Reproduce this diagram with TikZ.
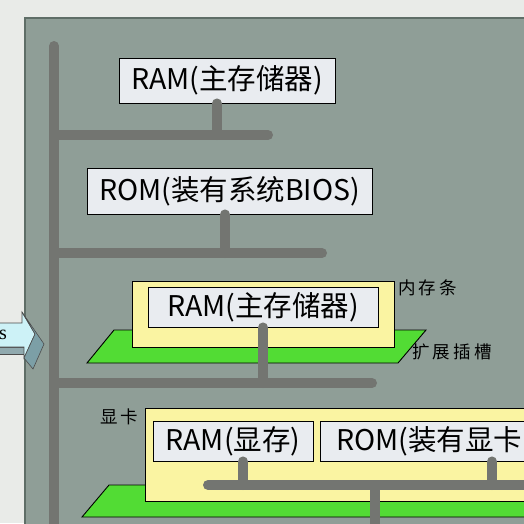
\documentclass[tikz,border=0pt]{standalone}
\usepackage{fontspec}
\setmainfont{Noto Sans CJK SC}
\newfontfamily\notefont[LetterSpace=18]{Noto Sans CJK SC}
\newfontfamily\arrowfont{Liberation Serif}
\usepackage{xcolor}
\definecolor{pagecolor}{HTML}{E9EBE8}
\definecolor{boardcolor}{HTML}{8F9E97}
\definecolor{edgecolor}{HTML}{5F6E67}
\definecolor{buscolor}{HTML}{737571}
\definecolor{chipcolor}{HTML}{E9ECF0}
\definecolor{modcolor}{HTML}{FAF4A2}
\definecolor{slotcolor}{HTML}{52DC34}
\definecolor{arrowfront}{HTML}{CDF2F7}
\definecolor{arrowside}{HTML}{7C9FA6}
\definecolor{arrowlow}{HTML}{90A9AE}
\usepackage{tikz}
\usetikzlibrary{positioning, calc}

\begin{document}
\begin{tikzpicture}[x=1pt, y=-1pt,
  chip/.style={draw=black, fill=chipcolor, line width=0.9pt, inner sep=0pt,
    font=\fontsize{28.5}{28.5}\selectfont},
  board/.style={draw=black, line width=0.9pt, inner sep=0pt},
  bus/.style={draw=buscolor, line width=10pt, line cap=round},
  note/.style={font=\notefont\fontsize{17.5}{17.5}\selectfont, anchor=west, inner sep=0pt}]
  \useasboundingbox (0,0) rectangle (524,523);
  \clip (0,0) rectangle (524,523);
  \fill[pagecolor] (0,0) rectangle (524,523);
  \fill[boardcolor] (25,18) rectangle (540,540);
  \draw[edgecolor, line width=1.5pt] (25,540) -- (25,18) -- (540,18);

  % slots and modules
  \draw[board, fill=slotcolor] (87,363) -- (114,330) -- (426,330) -- (398,363) -- cycle;
  \draw[board, fill=slotcolor] (82,517) -- (109,485) -- (540,485) -- (540,517) -- cycle;
  \node[board, fill=modcolor, minimum width=262pt, minimum height=66pt] (dimm) at (263,314) {};
  \node[board, fill=modcolor, anchor=north west, minimum width=400pt, minimum height=93pt] (card) at (145,408) {};

  \node[chip, minimum width=216pt, minimum height=45pt] (ram) at (227,80.5) {RAM(主存储器)};
  \node[chip, minimum width=285pt, minimum height=46pt] (rom) at (229.5,191) {ROM(装有系统BIOS)};
  \node[chip, minimum width=230pt, minimum height=40pt] (dimmram) at (263,307) {RAM(主存储器)};
  \node[chip, minimum width=160pt, minimum height=40pt] (vram) at (233,441) {RAM(显存)};
  \node[chip, anchor=west, minimum height=40pt, inner xsep=16pt, text width=240pt, align=left] (vrom) at (320,441) {ROM(装有显卡};

  \node[note] (dimmlabel) at (398,288) {内存条};
  \node[note] (slotlabel) at (412,352) {扩展插槽};
  \node[note] (cardlabel) at (100,417) {显卡};

  % buses
  \coordinate (bustop) at (54,46);
  \coordinate (busend) at (54,540);
  \coordinate (bar1) at (268,135);
  \coordinate (bar2) at (322,253);
  \coordinate (bar3) at (372,383);
  \coordinate (cardbar) at (208,485);
  \coordinate (cardbarend) at (540,485);
  \coordinate (cardpin) at (375,540);
  \draw[bus] (bustop) -- (busend);
  \foreach \b in {bar1,bar2,bar3}
    \draw[bus] (bustop |- \b) -- (\b);
  \draw[bus] ([xshift=-10pt]ram.south) -- ([xshift=-10pt]ram.south |- bar1);
  \draw[bus] ([xshift=-4.5pt]rom.south) -- ([xshift=-4.5pt]rom.south |- bar2);
  \draw[bus] (dimmram.south) -- (dimmram.south |- bar3);
  \draw[bus] (cardbar) -- (cardbarend);
  \draw[bus] ([xshift=10pt]vram.south) -- ([xshift=10pt]vram.south |- cardbar);
  \draw[bus] ([xshift=172pt]vrom.south west) -- ([xshift=172pt]vrom.south west |- cardbar);
  \draw[bus] (cardbar -| cardpin) -- (cardpin);

  % arrow at the left
  \draw[fill=arrowlow, draw=black!70, line width=0.6pt] (-2,347) -- (24,347) -- (24,354) -- (-2,354) -- cycle;
  \draw[fill=arrowfront, draw=black!70, line width=0.6pt] (-2,323) -- (22,323) -- (22,312) -- (35,334) -- (24,358) -- (24,347) -- (-2,347) -- cycle;
  \draw[fill=arrowside, draw=black!70, line width=0.6pt] (22,312) -- (44,344) -- (33,369) -- (24,358) -- (35,334) -- cycle;
  \node[font=\arrowfont\fontsize{20}{20}\selectfont, anchor=east, inner sep=0pt] (arrowtext) at (7,335) {s};
\end{tikzpicture}
\end{document}
